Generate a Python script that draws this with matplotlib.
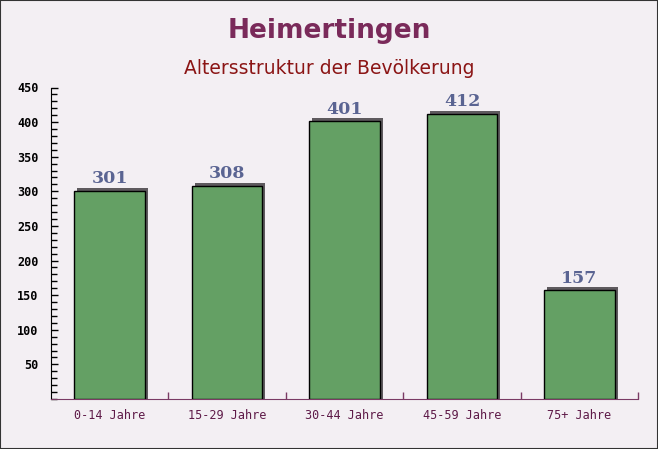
import numpy as np
import matplotlib.pyplot as plt
from matplotlib.ticker import MultipleLocator, FixedLocator, NullFormatter

categories = ['0-14 Jahre', '15-29 Jahre', '30-44 Jahre', '45-59 Jahre', '75+ Jahre']
values = [301, 308, 401, 412, 157]
title = 'Heimertingen'
subtitle = 'Altersstruktur der Bevölkerung'

bg = '#f3eff3'
bar_color = '#64a064'
shadow_color = '#5e5a5e'
label_color = '#5a6492'
axis_purple = '#7a3a64'


def main():
    fig = plt.figure(figsize=(6.58, 4.49), dpi=100)
    fig.patch.set_facecolor(bg)
    ax = fig.add_axes([51 / 658, 1 - 399 / 449, 587 / 658, 311.5 / 449])
    ax.set_facecolor(bg)

    x = np.arange(len(categories))
    w = 0.6
    # shadow, offset a few pixels right and up
    dx = 3 / 117.4
    dy = 3 / (311.5 / 450)
    ax.bar(x + dx, np.array(values) + dy, width=w, color=shadow_color, zorder=2)
    ax.bar(x, values, width=w, color=bar_color, edgecolor='black', linewidth=1, zorder=3)

    for xi, v in zip(x, values):
        ax.annotate(str(v), (xi, v), xytext=(0, 2.5), textcoords='offset points',
                    ha='center', va='bottom', fontsize=12.5, fontweight='bold',
                    family='DejaVu Serif', color=label_color, zorder=4)

    ax.set_xlim(-0.5, 4.5)
    ax.set_ylim(0, 450)

    ax.yaxis.set_major_locator(FixedLocator(range(50, 451, 50)))
    ax.yaxis.set_minor_locator(MultipleLocator(10))
    ax.tick_params(axis='y', which='major', direction='in', length=5, width=1,
                   labelsize=8.5, pad=9, colors='black')
    ax.tick_params(axis='y', which='minor', direction='in', length=4, width=1)
    for lab in ax.get_yticklabels():
        lab.set_family('DejaVu Sans Mono')
        lab.set_fontweight('bold')

    ax.set_xticks(x)
    ax.set_xticklabels(categories, family='DejaVu Sans Mono', fontsize=8.5,
                       color='#5e1a48')
    ax.tick_params(axis='x', which='major', length=0, pad=7)
    ax.xaxis.set_minor_locator(FixedLocator(np.arange(0.5, 4.6, 1)))
    ax.xaxis.set_minor_formatter(NullFormatter())
    ax.tick_params(axis='x', which='minor', direction='in', length=5, width=1,
                   color=axis_purple)

    for s in ['top', 'right']:
        ax.spines[s].set_visible(False)
    ax.spines['bottom'].set_color(axis_purple)
    ax.spines['left'].set_color('black')

    fig.text(0.5, 1 - 31.5 / 449, title, ha='center', va='center', fontsize=19,
             fontweight='bold', color='#7a2a5a')
    fig.text(0.5, 1 - 69 / 449, subtitle, ha='center', va='center', fontsize=13.5,
             color='#8b1515')

    # thin dark frame around the whole picture
    fig.patches.append(plt.Rectangle((0, 0), 1, 1, transform=fig.transFigure,
                                     fill=False, edgecolor='#333333', linewidth=1.5))

    fig.savefig('out.png', dpi=100, facecolor=bg)


if __name__ == "__main__":
    main()
